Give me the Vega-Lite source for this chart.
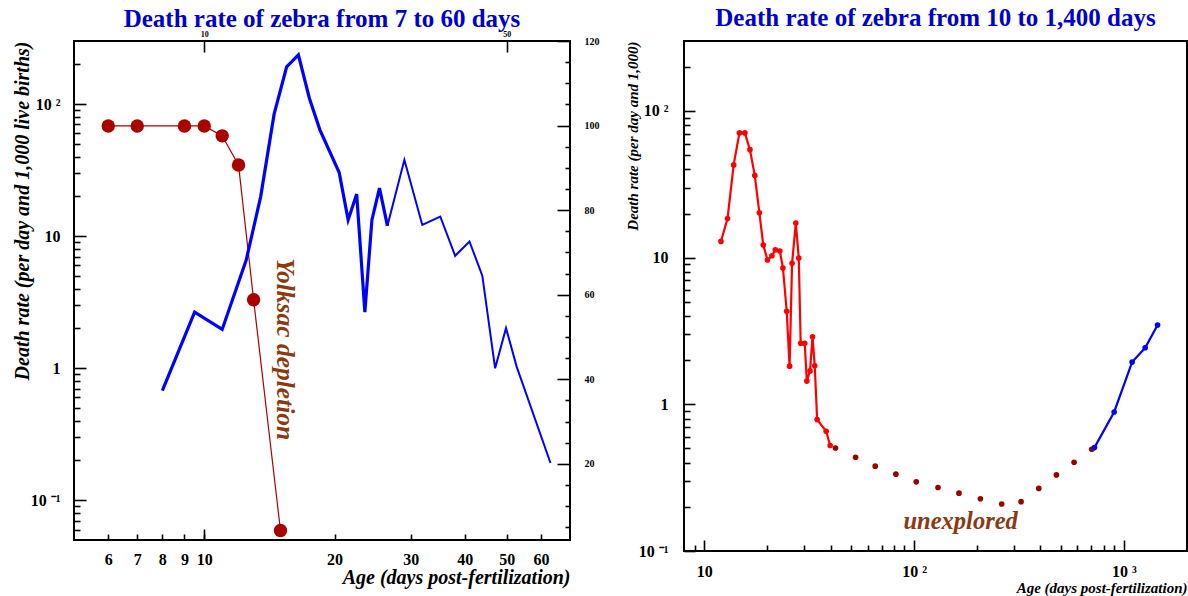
{
  "$schema": "https://vega.github.io/schema/vega-lite/v6.json",
  "background": "white",
  "padding": {"left": 11, "top": 5, "right": 0, "bottom": 0},
  "spacing": 24,
  "config": {
    "view": {"stroke": "black", "strokeWidth": 2},
    "font": "Liberation Serif",
    "axis": {"zindex": 1, "domain": false, "grid": false, "ticks": true, "labelFont": "Liberation Serif", "labelFontWeight": "bold", "labelColor": "black", "tickColor": "#000000", "tickOpacity": 1, "tickWidth": 1.6, "titleFont": "Liberation Serif", "titleFontWeight": "bold", "titleFontStyle": "italic", "titleColor": "black", "labelOverlap": false, "labelFlush": false},
    "title": {"font": "Liberation Serif", "fontSize": 25, "fontWeight": "bold", "color": "#0000CC", "anchor": "middle"}
  },
  "datasets": {
    "leftRed": [
      {"age": 6, "rate": 68.2}, {"age": 7, "rate": 68.2}, {"age": 9, "rate": 68.2}, {"age": 10, "rate": 68.2},
      {"age": 11, "rate": 57.4}, {"age": 12, "rate": 34.5}, {"age": 13, "rate": 3.3}, {"age": 15, "rate": 0.059}
    ],
    "leftBlueA": [
      {"age": 8.0, "value": 37.3}, {"age": 9.5, "value": 55.9}, {"age": 11.0, "value": 51.8}, {"age": 12.5, "value": 68.2},
      {"age": 13.5, "value": 83.2}, {"age": 14.5, "value": 102.7}, {"age": 15.5, "value": 113.9}, {"age": 16.5, "value": 116.7},
      {"age": 17.5, "value": 106.4}, {"age": 18.5, "value": 99.0}, {"age": 20.5, "value": 88.9}, {"age": 21.5, "value": 77.7},
      {"age": 22.5, "value": 83.8}, {"age": 23.5, "value": 55.9}, {"age": 24.4, "value": 77.7}, {"age": 25.4, "value": 85.2},
      {"age": 26.5, "value": 76.3}
    ],
    "leftBlueB": [
      {"age": 26.5, "value": 76.3}, {"age": 29.0, "value": 91.9}, {"age": 31.9, "value": 76.5}, {"age": 35.1, "value": 78.5},
      {"age": 38.0, "value": 69.2}, {"age": 41.0, "value": 72.6}, {"age": 43.9, "value": 64.5}, {"age": 47.0, "value": 42.6},
      {"age": 49.8, "value": 52.1}, {"age": 52.7, "value": 43.0}, {"age": 63.1, "value": 20.2}
    ],
    "leftNote": [{"age": 15.35, "rate": 1.39, "label": "Yolksac depletion"}],
    "rightRed": [
      {"age": 12.0, "rate": 12.9}, {"age": 12.9, "rate": 18.5}, {"age": 13.8, "rate": 42.9}, {"age": 14.7, "rate": 70.9},
      {"age": 15.6, "rate": 70.9}, {"age": 16.5, "rate": 54.5}, {"age": 17.4, "rate": 36.3}, {"age": 18.3, "rate": 20.2},
      {"age": 19.1, "rate": 12.2}, {"age": 20.0, "rate": 9.64}, {"age": 21.0, "rate": 10.3}, {"age": 21.8, "rate": 11.3},
      {"age": 22.9, "rate": 11.1}, {"age": 23.7, "rate": 8.5}, {"age": 24.7, "rate": 4.31}, {"age": 25.5, "rate": 1.82},
      {"age": 26.2, "rate": 9.15}, {"age": 27.3, "rate": 17.2}, {"age": 28.2, "rate": 9.95}, {"age": 28.8, "rate": 2.61},
      {"age": 30.1, "rate": 2.61}, {"age": 30.8, "rate": 1.44}, {"age": 31.9, "rate": 1.69}, {"age": 32.8, "rate": 2.89},
      {"age": 33.6, "rate": 1.83}, {"age": 34.5, "rate": 0.787}, {"age": 38.1, "rate": 0.655}, {"age": 39.8, "rate": 0.524}
    ],
    "rightDark": [
      {"age": 42.2, "rate": 0.504}, {"age": 52.6, "rate": 0.436}, {"age": 65.3, "rate": 0.379}, {"age": 81.9, "rate": 0.334},
      {"age": 102.4, "rate": 0.296}, {"age": 130, "rate": 0.271}, {"age": 163.7, "rate": 0.248}, {"age": 207, "rate": 0.227},
      {"age": 261.6, "rate": 0.209}, {"age": 323.6, "rate": 0.217}, {"age": 393, "rate": 0.267}, {"age": 477, "rate": 0.33},
      {"age": 579, "rate": 0.403}, {"age": 703, "rate": 0.494}
    ],
    "rightBlue": [
      {"age": 724, "rate": 0.507}, {"age": 899, "rate": 0.887}, {"age": 1095, "rate": 1.94}, {"age": 1264, "rate": 2.43}, {"age": 1448, "rate": 3.47}
    ],
    "rightNote": [{"age": 166.7, "rate": 0.157, "label": "unexplored"}]
  },
  "hconcat": [
    {
      "title": {"text": "Death rate of zebra from 7 to 60 days", "offset": -2},
      "width": 496,
      "height": 499,
      "resolve": {"scale": {"x": "independent", "y": "independent"}, "axis": {"x": "independent", "y": "independent"}},
      "layer": [
        {
          "data": {"name": "leftRed"},
          "mark": {"type": "line", "color": "#AA0000", "strokeWidth": 1.2},
          "encoding": {
            "x": {"field": "age", "type": "quantitative", "scale": {"type": "log", "domain": [5, 70], "nice": false},
              "axis": {"orient": "bottom", "values": [6, 7, 8, 9, 10, 20, 30, 40, 50, 60], "format": "d", "offset": -6, "tickSize": 6, "labelPadding": 11, "labelFontSize": 16,
                "title": "Age (days post-fertilization)", "titleFontSize": 20, "titleAnchor": "end", "titlePadding": 0}},
            "y": {"field": "rate", "type": "quantitative", "scale": {"type": "log", "domain": [0.05, 300], "nice": false},
              "axis": {"orient": "left", "values": [0.1, 1, 10, 100], "labelExpr": "datum.value == 100 ? '10 ²' : datum.value == 10 ? '10' : datum.value == 1 ? '1' : '10 ⁻¹'",
                "offset": -12, "tickSize": 12, "labelPadding": 14, "labelFontSize": 16,
                "title": "Death rate (per day and 1,000 live births)", "titleFontSize": 20, "titleAnchor": "end", "titlePadding": -2}}
          }
        },
        {
          "data": {"name": "leftRed"},
          "mark": {"type": "circle", "color": "#AA0000", "opacity": 1, "size": 180},
          "encoding": {
            "x": {"field": "age", "type": "quantitative", "scale": {"type": "log", "domain": [5, 70], "nice": false}, "axis": null},
            "y": {"field": "rate", "type": "quantitative", "scale": {"type": "log", "domain": [0.05, 300], "nice": false}, "axis": null}
          }
        },
        {
          "data": {"name": "leftBlueA"},
          "mark": {"type": "line", "color": "#0000FF", "strokeWidth": 3.2},
          "encoding": {
            "x": {"field": "age", "type": "quantitative", "scale": {"type": "log", "domain": [5, 70], "nice": false}, "axis": null},
            "y": {"field": "value", "type": "quantitative", "scale": {"type": "linear", "domain": [2, 120], "nice": false, "zero": false},
              "axis": {"orient": "right", "values": [20, 40, 60, 80, 100, 120], "format": "d", "offset": -13, "tickSize": 13, "labelPadding": 14, "labelFontSize": 10, "title": null}}
          }
        },
        {
          "data": {"name": "leftBlueB"},
          "mark": {"type": "line", "color": "#0000FF", "strokeWidth": 2},
          "encoding": {
            "x": {"field": "age", "type": "quantitative", "scale": {"type": "log", "domain": [5, 70], "nice": false}, "axis": null},
            "y": {"field": "value", "type": "quantitative", "scale": {"type": "linear", "domain": [2, 120], "nice": false, "zero": false}, "axis": null}
          }
        },
        {
          "data": {"name": "leftNote"},
          "mark": {"type": "text", "angle": 90, "font": "Liberation Serif", "fontSize": 25.5, "fontWeight": "bold", "fontStyle": "italic", "color": "#8B3A10", "align": "center", "baseline": "middle"},
          "encoding": {
            "x": {"field": "age", "type": "quantitative", "scale": {"type": "log", "domain": [5, 70], "nice": false}, "axis": null},
            "y": {"field": "rate", "type": "quantitative", "scale": {"type": "log", "domain": [0.05, 300], "nice": false}, "axis": null},
            "text": {"field": "label"}
          }
        },
        {
          "data": {"name": "leftRed"},
          "mark": {"type": "point", "opacity": 0},
          "encoding": {
            "x": {"field": "age", "type": "quantitative", "scale": {"type": "log", "domain": [5, 70], "nice": false},
              "axis": {"orient": "top", "values": [10, 50], "format": "d", "offset": -11, "tickSize": 11, "labelPadding": 3, "labelFontSize": 8, "title": null}},
            "y": {"field": "rate", "type": "quantitative", "scale": {"type": "log", "domain": [0.05, 300], "nice": false},
              "axis": {"orient": "left", "values": [0.06, 0.07, 0.08, 0.09, 0.2, 0.3, 0.4, 0.5, 0.6, 0.7, 0.8, 0.9, 2, 3, 4, 5, 6, 7, 8, 9, 20, 30, 40, 50, 60, 70, 80, 90, 200], "labels": false, "offset": -6, "tickSize": 6, "title": null}}
          }
        },
        {
          "data": {"name": "leftBlueB"},
          "mark": {"type": "point", "opacity": 0},
          "encoding": {
            "x": {"field": "age", "type": "quantitative", "scale": {"type": "log", "domain": [5, 70], "nice": false},
              "axis": {"orient": "bottom", "values": [10], "labels": false, "offset": -11, "tickSize": 11, "title": null}},
            "y": {"field": "value", "type": "quantitative", "scale": {"type": "linear", "domain": [2, 120], "nice": false, "zero": false},
              "axis": {"orient": "right", "values": [5, 10, 15, 25, 30, 35, 45, 50, 55, 65, 70, 75, 85, 90, 95, 105, 110, 115], "labels": false, "offset": -5, "tickSize": 5, "title": null}}
          }
        }
      ]
    },
    {
      "title": {"text": "Death rate of zebra from 10 to 1,400 days", "offset": 10},
      "width": 503,
      "height": 510,
      "resolve": {"scale": {"x": "independent", "y": "independent"}, "axis": {"x": "independent", "y": "independent"}},
      "layer": [
        {
          "data": {"name": "rightRed"},
          "mark": {"type": "line", "color": "#FF0000", "strokeWidth": 2.2, "point": {"filled": true, "size": 32, "color": "#FF0000"}},
          "encoding": {
            "x": {"field": "age", "type": "quantitative", "scale": {"type": "log", "domain": [8, 2000], "nice": false},
              "axis": {"orient": "bottom", "values": [10, 100, 1000], "labelExpr": "datum.value == 10 ? '10' : datum.value == 100 ? '10 ²' : '10 ³'", "offset": -11, "tickSize": 11, "labelPadding": 12, "labelFontSize": 16,
                "title": "Age (days post-fertilization)", "titleFontSize": 15, "titleAnchor": "end", "titlePadding": 1}},
            "y": {"field": "rate", "type": "quantitative", "scale": {"type": "log", "domain": [0.1, 300], "nice": false},
              "axis": {"orient": "left", "values": [0.1, 1, 10, 100], "labelExpr": "datum.value == 100 ? '10 ²' : datum.value == 10 ? '10' : datum.value == 1 ? '1' : '10 ⁻¹'",
                "offset": -11, "tickSize": 11, "labelPadding": 16, "labelFontSize": 16,
                "title": "Death rate (per day and 1,000)", "titleFontSize": 15, "titleAnchor": "end", "titlePadding": -2}}
          }
        },
        {
          "data": {"name": "rightDark"},
          "mark": {"type": "circle", "color": "#990000", "opacity": 1, "size": 32},
          "encoding": {
            "x": {"field": "age", "type": "quantitative", "scale": {"type": "log", "domain": [8, 2000], "nice": false}, "axis": null},
            "y": {"field": "rate", "type": "quantitative", "scale": {"type": "log", "domain": [0.1, 300], "nice": false}, "axis": null}
          }
        },
        {
          "data": {"name": "rightBlue"},
          "mark": {"type": "line", "color": "#0000FF", "strokeWidth": 2.2, "point": {"filled": true, "size": 32, "color": "#0000FF"}},
          "encoding": {
            "x": {"field": "age", "type": "quantitative", "scale": {"type": "log", "domain": [8, 2000], "nice": false}, "axis": null},
            "y": {"field": "rate", "type": "quantitative", "scale": {"type": "log", "domain": [0.1, 300], "nice": false}, "axis": null}
          }
        },
        {
          "data": {"name": "rightNote"},
          "mark": {"type": "text", "font": "Liberation Serif", "fontSize": 24.5, "fontWeight": "bold", "fontStyle": "italic", "color": "#8B3A10", "align": "center", "baseline": "middle"},
          "encoding": {
            "x": {"field": "age", "type": "quantitative", "scale": {"type": "log", "domain": [8, 2000], "nice": false}, "axis": null},
            "y": {"field": "rate", "type": "quantitative", "scale": {"type": "log", "domain": [0.1, 300], "nice": false}, "axis": null},
            "text": {"field": "label"}
          }
        },
        {
          "data": {"name": "rightDark"},
          "mark": {"type": "point", "opacity": 0},
          "encoding": {
            "x": {"field": "age", "type": "quantitative", "scale": {"type": "log", "domain": [8, 2000], "nice": false},
              "axis": {"orient": "bottom", "values": [9, 20, 30, 40, 50, 60, 70, 80, 90, 200, 300, 400, 500, 600, 700, 800, 900], "labels": false, "offset": -6, "tickSize": 6, "title": null}},
            "y": {"field": "rate", "type": "quantitative", "scale": {"type": "log", "domain": [0.1, 300], "nice": false},
              "axis": {"orient": "left", "values": [0.2, 0.3, 0.4, 0.5, 0.6, 0.7, 0.8, 0.9, 2, 3, 4, 5, 6, 7, 8, 9, 20, 30, 40, 50, 60, 70, 80, 90, 200], "labels": false, "offset": -6, "tickSize": 6, "title": null}}
          }
        }
      ]
    }
  ]
}
